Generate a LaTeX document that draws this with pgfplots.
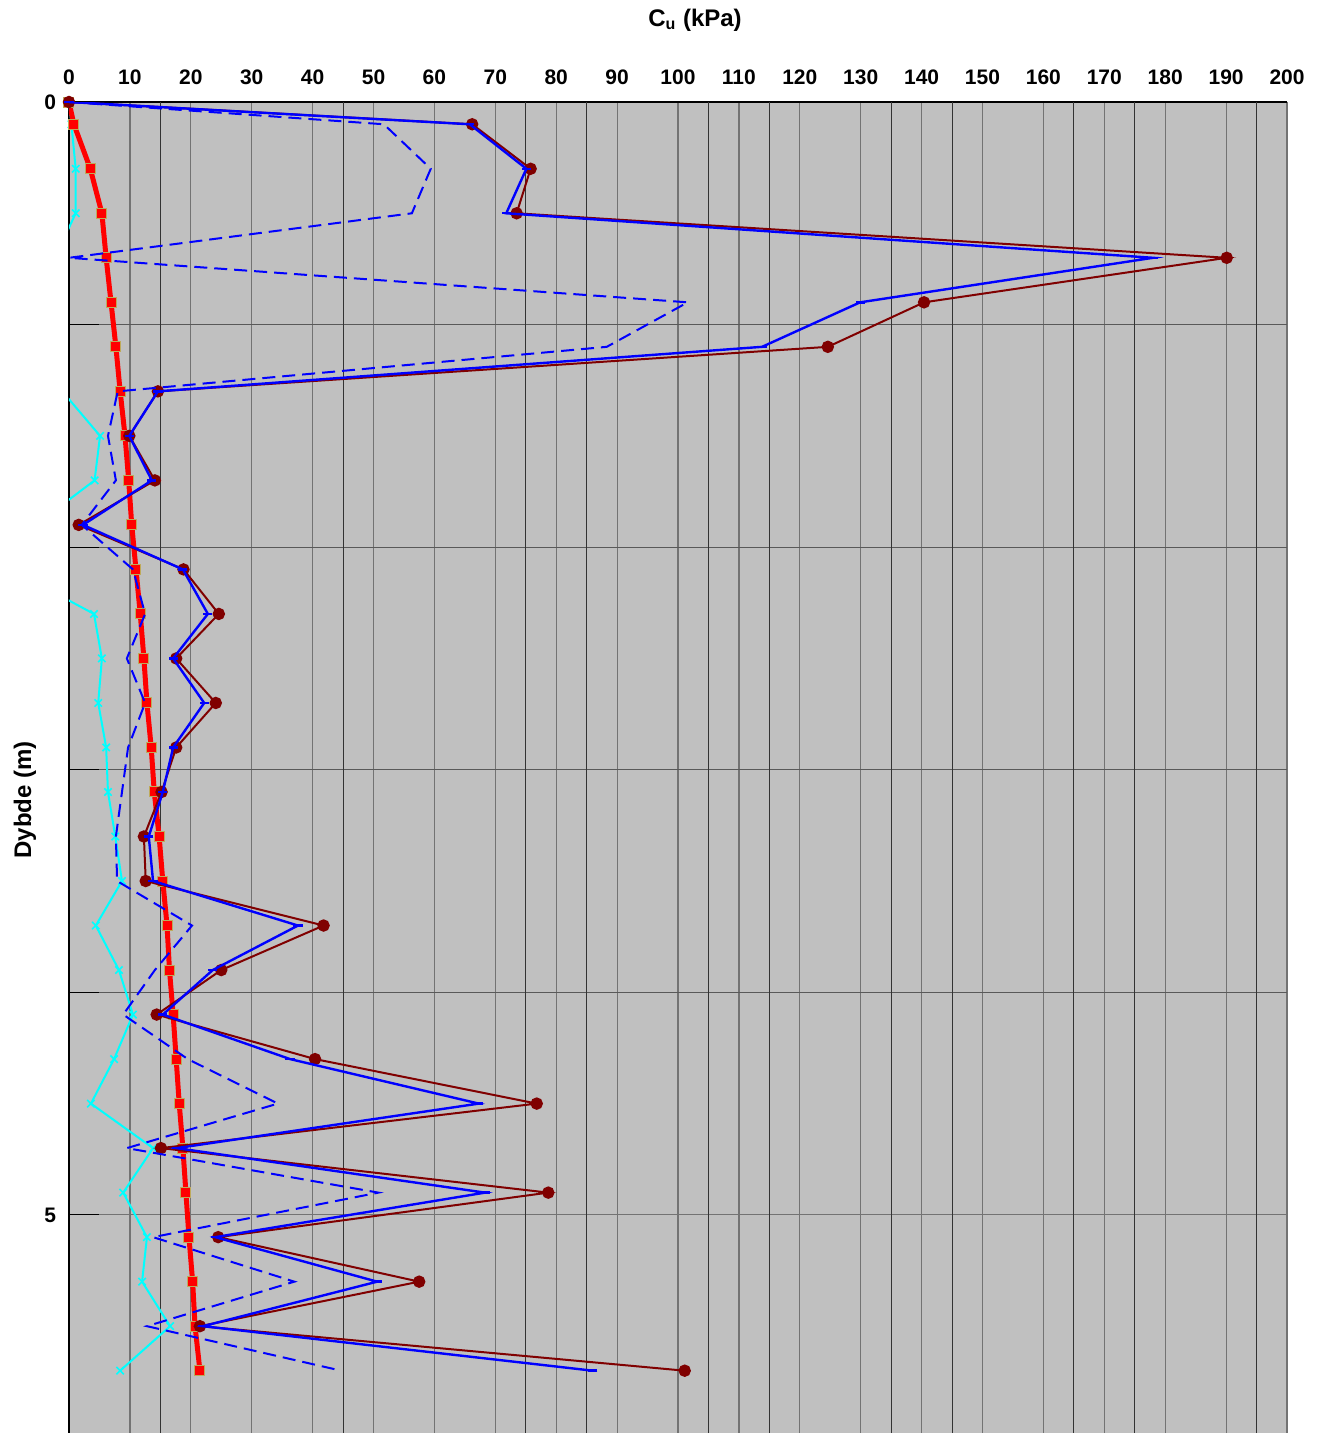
\documentclass[border=0pt]{standalone}
\usepackage{fontspec}
\setmainfont{Liberation Sans}
\usepackage{pgfplots}
\usepackage{pgfplotstable}
\pgfplotsset{compat=1.18}

\definecolor{bgsilver}{RGB}{192,192,192}
\definecolor{cudark}{RGB}{128,0,0}
\definecolor{cucyan}{RGB}{0,255,255}
\definecolor{sqedge}{RGB}{190,170,90}

% depth (m) and the five Cu series (kPa)
\pgfplotstableread{
d    cua    cub    cuc    cud    cue
0.0  0.0    0.0    0.0    0.0    0.0
0.1  66.2   65.8   51.7   0.4    0.8
0.3  75.8   75.1   59.4   1.1    3.5
0.5  73.5   71.8   56.3   1.1    5.4
0.7  190.1  178.0  0.0    -2.3   6.1
0.9  140.4  129.9  101.6  -5.0   6.9
1.1  124.6  113.8  88.3   -5.0   7.7
1.3  14.6   14.6   8.0    -1.1   8.4
1.5  9.9    9.9    6.4    5.1    9.2
1.7  14.1   13.6   7.7    4.2    9.8
1.9  1.6    2.3    2.1    -5.5   10.3
2.1  18.8   18.7   10.5   -9.5   11.0
2.3  24.6   22.8   12.5   4.1    11.7
2.5  17.6   17.1   9.5    5.4    12.3
2.7  24.1   22.2   12.5   4.8    12.8
2.9  17.6   17.1   9.7    6.1    13.5
3.1  15.2   15.4   8.7    6.4    14.0
3.3  12.3   13.1   7.7    7.6    14.8
3.5  12.6   13.8   7.9    8.7    15.4
3.7  41.8   37.6   20.2   4.4    16.1
3.9  25.0   23.6   14.1   8.2    16.5
4.1  14.4   15.4   8.9    10.5   17.1
4.3  40.4   36.3   19.5   7.4    17.6
4.5  76.8   67.3   34.3   3.6    18.1
4.7  15.1   17.7   9.5    13.8   18.7
4.9  78.7   68.3   50.8   8.9    19.2
5.1  24.5   24.0   13.8   12.8   19.7
5.3  57.5   50.6   37.0   12.0   20.3
5.5  21.5   22.0   12.8   16.6   20.7
5.7  101.1  86.0   44.7   8.4    21.5
}\cudata

\begin{document}
\begin{tikzpicture}
\begin{axis}[
  scale only axis,
  width=609pt, height=665.5pt,
  xmin=0, xmax=200, ymin=0, ymax=5.98,
  y dir=reverse,
  axis x line*=top, axis y line*=left,
  axis line style={black, line width=0.8pt},
  axis background/.style={fill=bgsilver},
  xtick={0,10,...,200},
  ytick={0,5},
  minor ytick={1,2,3,4},
  extra x ticks={15,45,75,85,105,115,135,145,165,175,195},
  extra x tick labels={},
  extra x tick style={grid=major, major grid style={black!80, line width=0.5pt}},
  xmajorgrids, ymajorgrids, yminorgrids,
  major grid style={black!55, line width=0.6pt},
  minor grid style={black!65, line width=0.6pt},
  x tick style={draw=none},
  tick align=inside,
  major tick length=15pt, minor tick length=15pt,
  y tick style={black, line width=0.6pt},
  /pgf/number format/assume math mode=true,
  ticklabel style={font=\fontsize{10.5}{12}\selectfont\bfseries},
  xticklabel style={yshift=5pt},
  yticklabel style={xshift=-3pt},
  title={\textbf{C\textsubscript{u} (kPa)}},
  title style={font=\fontsize{12}{14}\selectfont, at={(axis description cs:0.5,1)}, anchor=center, yshift=35pt, xshift=8.5pt},
  ylabel={\textbf{Dybde (m)}},
  ylabel style={font=\fontsize{12}{14}\selectfont, at={(axis description cs:-0.0361,0.4756)}, anchor=center},
  clip mode=individual,
]
% cyan line (negative readings clipped at the axis) and its marks
\addplot[cucyan, line width=1pt, no markers] table[x=cud, y=d] {\cudata};
\addplot[cucyan, line width=0.8pt, only marks, mark=x, mark size=2.6pt,
  restrict x to domain=0:200] table[x=cud, y=d] {\cudata};
% red trend line
\addplot[red, line width=2.5pt, mark=square*, mark size=2.5pt,
  mark options={fill=red, draw=sqedge, line width=0.5pt}] table[x=cue, y=d] {\cudata};
% dark red
\addplot[cudark, line width=1pt, mark=*, mark size=2.6pt,
  mark options={fill=cudark, draw=cudark}] table[x=cua, y=d] {\cudata};
% blue solid
\addplot[blue, line width=1.2pt, mark=-, mark size=2.3pt] table[x=cub, y=d] {\cudata};
% blue dashed
\addplot[blue, line width=1pt, dash pattern=on 6.5pt off 3.5pt, no markers] table[x=cuc, y=d] {\cudata};
\end{axis}
\pgfresetboundingbox
\path[use as bounding box] ([xshift=-34.5pt]current axis.south west) rectangle ([xshift=17.5pt,yshift=51pt]current axis.north east);
\end{tikzpicture}
\end{document}
